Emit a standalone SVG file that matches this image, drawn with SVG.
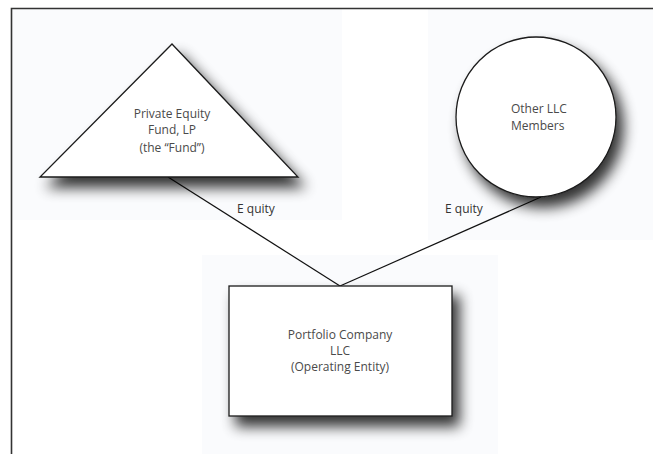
<svg xmlns="http://www.w3.org/2000/svg" width="653" height="454" viewBox="0 0 653 454">
<defs>
<filter id="sh" x="-30%" y="-30%" width="170%" height="180%">
<feGaussianBlur in="SourceAlpha" stdDeviation="7"/>
<feOffset dx="7" dy="10" result="b"/>
<feComponentTransfer><feFuncA type="linear" slope="0.8"/></feComponentTransfer>
<feMerge><feMergeNode/><feMergeNode in="SourceGraphic"/></feMerge>
</filter>
<style>
.shape{fill:#fff;stroke:#1a1a1a;stroke-width:1.3}
.bg{fill:#fafbfd}
.t{font-family:"Open Sans","Liberation Sans",sans-serif;font-size:12px;fill:#4a4a4a}
.lbl{font-family:"Open Sans","Liberation Sans",sans-serif;font-size:12px;fill:#333}
.edge{stroke:#111;stroke-width:1.2;fill:none}
</style>
</defs>
<rect width="653" height="454" fill="#fff"/>
<rect class="bg" x="12" y="9" width="330" height="211"/>
<rect class="bg" x="428" y="9" width="225" height="231"/>
<rect class="bg" x="202" y="255" width="296" height="199"/>
<path d="M11.5 454 V8.5 H653" fill="none" stroke="#333" stroke-width="1.6"/>
<g id="connectors">
<line class="edge" x1="168" y1="177" x2="340" y2="286"/>
<line class="edge" x1="541" y1="197" x2="340" y2="286"/>
<text class="lbl" x="237" y="213">E quity</text>
<text class="lbl" x="445" y="213">E quity</text>
</g>
<g id="fund">
<polygon class="shape" filter="url(#sh)" points="172,44 298,177 40,177"/>
<text class="t" text-anchor="middle" x="172" y="118">Private Equity</text>
<text class="t" text-anchor="middle" x="172" y="134">Fund, LP</text>
<text class="t" text-anchor="middle" x="172" y="152">(the “Fund”)</text>
</g>
<g id="members">
<circle class="shape" filter="url(#sh)" cx="536" cy="117" r="80"/>
<text class="t" x="511" y="113">Other LLC</text>
<text class="t" x="511" y="130">Members</text>
</g>
<g id="portfolio">
<rect class="shape" filter="url(#sh)" x="229" y="286" width="223" height="130"/>
<text class="t" text-anchor="middle" x="340" y="339">Portfolio Company</text>
<text class="t" text-anchor="middle" x="340" y="355">LLC</text>
<text class="t" text-anchor="middle" x="340" y="371">(Operating  Entity)</text>
</g>
</svg>
